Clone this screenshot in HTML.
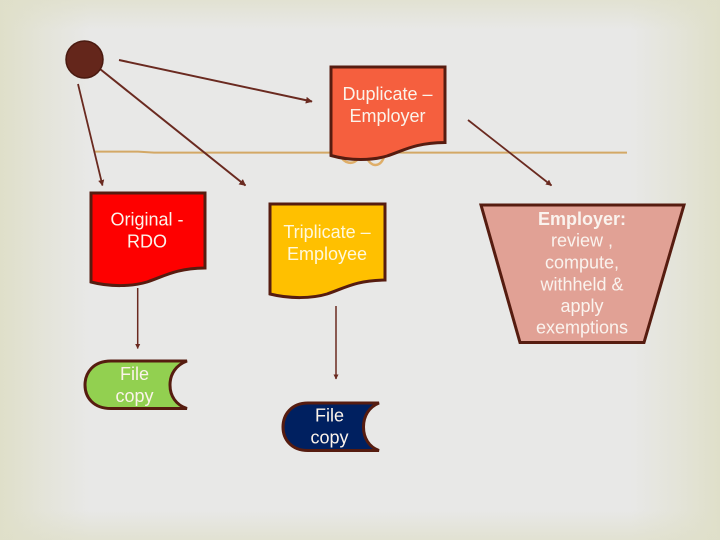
<!DOCTYPE html>
<html>
<head>
<meta charset="utf-8">
<style>
html,body{margin:0;padding:0;width:720px;height:540px;overflow:hidden;background:#e8e8e6}
svg{display:block}
text{font-family:"Liberation Sans",sans-serif;font-size:18px;text-anchor:middle}
</style>
</head>
<body>
<svg width="720" height="540" viewBox="0 0 720 540" xmlns="http://www.w3.org/2000/svg">
<defs>
<linearGradient id="h" x1="0" y1="0" x2="1" y2="0">
<stop offset="0" stop-color="#dfdfc9"/>
<stop offset="0.5" stop-color="#dfdfc9" stop-opacity="0.45"/>
<stop offset="1" stop-color="#dfdfc9" stop-opacity="0"/>
</linearGradient>
<linearGradient id="h2" x1="1" y1="0" x2="0" y2="0">
<stop offset="0" stop-color="#dfdfc9"/>
<stop offset="0.5" stop-color="#dfdfc9" stop-opacity="0.45"/>
<stop offset="1" stop-color="#dfdfc9" stop-opacity="0"/>
</linearGradient>
<linearGradient id="v" x1="0" y1="0" x2="0" y2="1">
<stop offset="0" stop-color="#dfdfc9" stop-opacity="0.7"/>
<stop offset="1" stop-color="#dfdfc9" stop-opacity="0"/>
</linearGradient>
<linearGradient id="v2" x1="0" y1="1" x2="0" y2="0">
<stop offset="0" stop-color="#dfdfc9" stop-opacity="0.7"/>
<stop offset="1" stop-color="#dfdfc9" stop-opacity="0"/>
</linearGradient>
<marker id="a" viewBox="0 0 10 10" refX="9" refY="5" markerWidth="3.4" markerHeight="3.4" orient="auto">
<path d="M0 0L10 5L0 10z" fill="#6a2a20"/>
</marker>
</defs>
<rect width="720" height="540" fill="#e8e8e7"/>
<rect x="0" y="0" width="90" height="540" fill="url(#h)"/>
<rect x="630" y="0" width="90" height="540" fill="url(#h2)"/>
<rect x="0" y="0" width="720" height="30" fill="url(#v)"/>
<rect x="0" y="510" width="720" height="30" fill="url(#v2)"/>

<!-- tan rule and swirls -->
<path d="M95 151.6H138L154 152.6H627" stroke="#d3a866" stroke-width="2" fill="none"/>
<path d="M340 155C344 164 353 165 358 159M367 158C371 167 380 168 384 157" stroke="#dfae68" stroke-width="2.5" fill="none"/>

<!-- connectors -->
<g stroke="#6a2a20" fill="none" marker-end="url(#a)">
<line x1="119" y1="60" x2="312" y2="101.5" stroke-width="2"/>
<line x1="100" y1="69" x2="245.500" y2="185.500" stroke-width="2"/>
<line x1="78" y1="84" x2="102.500" y2="185.500" stroke-width="1.800"/>
<line x1="468" y1="120" x2="551.500" y2="185.500" stroke-width="1.800"/>
<line x1="137.700" y1="288" x2="137.700" y2="348.500" stroke-width="1.500"/>
<line x1="336" y1="306" x2="336" y2="379" stroke-width="1.500"/>
</g>

<!-- start circle -->
<circle cx="84.500" cy="59.500" r="18.500" fill="#64261b" stroke="#4a1a10" stroke-width="1.500"/>

<!-- documents -->
<g stroke="#561c10" stroke-width="3" stroke-linejoin="miter">
<path d="M331 67H445V142.500C415 143 405 150 387 156C372 160.500 350 161 331 155.500Z" fill="#f55f3e"/>
<path d="M91 193H205V268C175 268.500 165 276 147 282C132 286.500 110 287 91 282Z" fill="#fe0000"/>
<path d="M270 204H385V280C355 280.500 345 288 327 294C312 298.500 290 299 270 294Z" fill="#ffc000"/>
<path d="M481 205H684L644 342.500H520Z" fill="#e1a195"/>
<path d="M187 361H111C93 361 85 373 85 385C85 397 93 408.500 111 408.500H187C176 405 170 396 170 385C170 374 176 365 187 361Z" fill="#92d050"/>
<path d="M379 403H308C291 403 283 415 283 427C283 439 291 450.500 308 450.500H379C369 447 363.500 438 363.500 427C363.500 416 369 407 379 403Z" fill="#002060"/>
</g>

<!-- labels -->
<g fill="#fbf3ea">
<text x="387.500" y="100">Duplicate –</text>
<text x="387.500" y="122">Employer</text>
<text x="147" y="225.500">Original -</text>
<text x="147" y="247.500">RDO</text>
<text x="134.500" y="380">File</text>
<text x="134.500" y="402">copy</text>
<text x="329.500" y="421.500">File</text>
<text x="329.500" y="443.500">copy</text>
</g>
<g fill="#fff8dc">
<text x="327" y="238">Triplicate –</text>
<text x="327" y="260">Employee</text>
</g>
<g fill="#faf3ee">
<text x="582" y="225" style="font-weight:bold">Employer:</text>
<text x="582" y="246.500">review ,</text>
<text x="582" y="268.500">compute,</text>
<text x="582" y="290.500">withheld &amp;</text>
<text x="582" y="312">apply</text>
<text x="582" y="333.500">exemptions</text>
</g>
</svg>
</body>
</html>
